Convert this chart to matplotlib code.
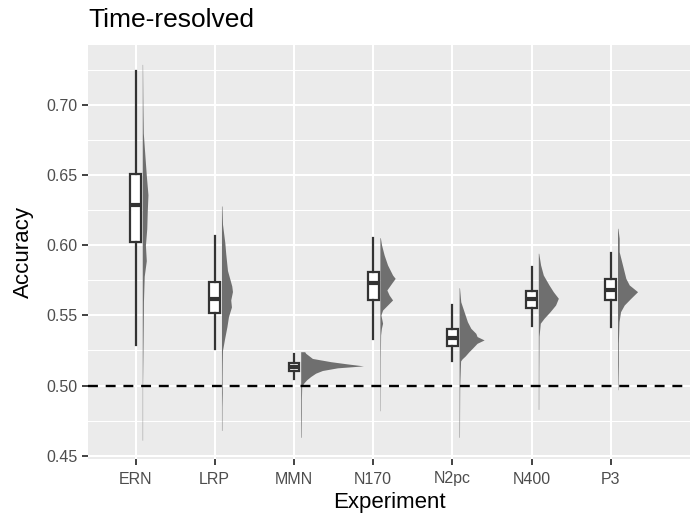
import numpy as np
import matplotlib
matplotlib.use("Agg")
import matplotlib.pyplot as plt
from matplotlib.ticker import MultipleLocator

plt.rcParams['font.family'] = ['Liberation Sans', 'DejaVu Sans']

experiments = ['ERN', 'LRP', 'MMN', 'N170', 'N2pc', 'N400', 'P3']

# boxplot summaries: lower whisker, q1, median, q3, upper whisker
box_stats = {
    'ERN':  [0.529, 0.602, 0.629, 0.651, 0.724],
    'LRP':  [0.526, 0.5515, 0.562, 0.5736, 0.6066],
    'MMN':  [0.5044, 0.5106, 0.5135, 0.5163, 0.5222],
    'N170': [0.5335, 0.5612, 0.5729, 0.5812, 0.6055],
    'N2pc': [0.5178, 0.5281, 0.5342, 0.5402, 0.5572],
    'N400': [0.5425, 0.555, 0.5618, 0.5676, 0.5847],
    'P3':   [0.5418, 0.561, 0.5684, 0.5757, 0.5945],
}

# half-violin outlines: accuracy values and density widths (x units)
ern_y = [0.729, 0.70, 0.68, 0.665, 0.65, 0.636, 0.624, 0.612, 0.600, 0.589, 0.578, 0.560, 0.545, 0.52, 0.50, 0.48, 0.461]
ern_w = [0.004, 0.008, 0.013, 0.032, 0.051, 0.072, 0.063, 0.057, 0.040, 0.051, 0.025, 0.015, 0.013, 0.008, 0.004, 0.004, 0.004]
lrp_y = [0.628, 0.615, 0.602, 0.594, 0.582, 0.571, 0.567, 0.561, 0.556, 0.549, 0.542, 0.533, 0.525, 0.516, 0.505, 0.495, 0.485, 0.468]
lrp_w = [0.006, 0.013, 0.042, 0.054, 0.076, 0.130, 0.139, 0.117, 0.126, 0.088, 0.069, 0.038, 0.013, 0.010, 0.008, 0.010, 0.006, 0.005]
mmn_y = [0.5241, 0.523, 0.5193, 0.517, 0.5154, 0.514, 0.5126, 0.5107, 0.5088, 0.5064, 0.5041, 0.5017, 0.4993, 0.49, 0.48, 0.4631]
mmn_w = [0.051, 0.063, 0.148, 0.379, 0.590, 0.792, 0.463, 0.274, 0.189, 0.126, 0.076, 0.038, 0.013, 0.009, 0.009, 0.006]
n170_y = [0.6054, 0.6002, 0.593, 0.5859, 0.5788, 0.5764, 0.5729, 0.5681, 0.5645, 0.561, 0.5574, 0.5538, 0.5503, 0.5444, 0.5408, 0.536, 0.52, 0.50, 0.482]
n170_w = [0.006, 0.021, 0.054, 0.097, 0.160, 0.193, 0.148, 0.088, 0.117, 0.160, 0.097, 0.034, 0.013, 0.034, 0.019, 0.009, 0.006, 0.005, 0.004]
n2pc_y = [0.5697, 0.5597, 0.5526, 0.5455, 0.5408, 0.5372, 0.5349, 0.5325, 0.5301, 0.5266, 0.5242, 0.521, 0.519, 0.5175, 0.50, 0.48, 0.4631]
n2pc_w = [0.005, 0.021, 0.063, 0.105, 0.148, 0.211, 0.227, 0.316, 0.227, 0.168, 0.126, 0.076, 0.038, 0.019, 0.008, 0.006, 0.005]
n400_y = [0.5943, 0.5859, 0.5788, 0.5717, 0.5669, 0.5622, 0.5574, 0.5526, 0.5479, 0.5444, 0.535, 0.51, 0.483]
n400_w = [0.005, 0.029, 0.063, 0.135, 0.189, 0.253, 0.218, 0.148, 0.072, 0.025, 0.009, 0.006, 0.005]
p3_y = [0.6121, 0.605, 0.5954, 0.5859, 0.5764, 0.5717, 0.5669, 0.5622, 0.5574, 0.5526, 0.5455, 0.53, 0.515, 0.497]
p3_w = [0.005, 0.021, 0.021, 0.063, 0.105, 0.148, 0.253, 0.168, 0.085, 0.038, 0.019, 0.010, 0.010, 0.004]

violins = {
    'ERN': (ern_y, ern_w), 'LRP': (lrp_y, lrp_w), 'MMN': (mmn_y, mmn_w),
    'N170': (n170_y, n170_w), 'N2pc': (n2pc_y, n2pc_w),
    'N400': (n400_y, n400_w), 'P3': (p3_y, p3_w),
}

chance = 0.5

W, H = 691, 519
fig = plt.figure(figsize=(W / 100, H / 100), dpi=100)
ax = fig.add_axes([88 / W, (H - 459) / H, (690 - 88) / W, (459 - 45) / H])
ax.set_facecolor('#EBEBEB')
for s in ax.spines.values():
    s.set_visible(False)

positions = np.arange(1, len(experiments) + 1)

# half violins, nudged right of the boxes
for pos, exp in zip(positions, experiments):
    y, w = violins[exp]
    base = pos + 0.085
    ax.fill_betweenx(y, base, base + np.array(w), color='#6F6F6F', linewidth=0, zorder=2)

# boxplots
stats = []
for exp in experiments:
    lo, q1, med, q3, hi = box_stats[exp]
    stats.append(dict(whislo=lo, q1=q1, med=med, q3=q3, whishi=hi, fliers=[]))
ax.bxp(stats, positions=positions, widths=0.135, patch_artist=True,
       showcaps=False, showfliers=False, manage_ticks=False,
       boxprops=dict(facecolor='white', edgecolor='#333333', linewidth=1.6),
       whiskerprops=dict(color='#333333', linewidth=1.6),
       medianprops=dict(color='#333333', linewidth=3, solid_capstyle='butt'),
       zorder=3)

ax.axhline(chance, color='black', linewidth=1.7, dashes=(4.2, 3.3), zorder=4)

ax.set_xlim(0.4, 8.0)
ax.set_ylim(0.4476, 0.7428)
ax.set_xticks(positions)
ax.set_xticklabels(experiments)
ax.yaxis.set_major_locator(MultipleLocator(0.05))
ax.yaxis.set_minor_locator(MultipleLocator(0.025))
ax.yaxis.set_major_formatter(matplotlib.ticker.FormatStrFormatter('%.2f'))

ax.grid(which='major', color='white', linewidth=1.5)
ax.grid(which='minor', axis='y', color='white', linewidth=0.75)
ax.set_axisbelow(True)

ax.tick_params(which='major', length=4, width=1.3, color='#333333',
               labelsize=11.5, labelcolor='#4D4D4D', pad=3.5)
ax.tick_params(which='minor', length=0)
ax.tick_params(axis='x', pad=5)

ax.set_xlabel('Experiment', fontsize=16, labelpad=4)
ax.set_ylabel('Accuracy', fontsize=16, labelpad=9)
fig.text(88 / W, 1 - 27 / H, 'Time-resolved', fontsize=19, va='baseline', ha='left')

fig.savefig('out.png', dpi=100)
